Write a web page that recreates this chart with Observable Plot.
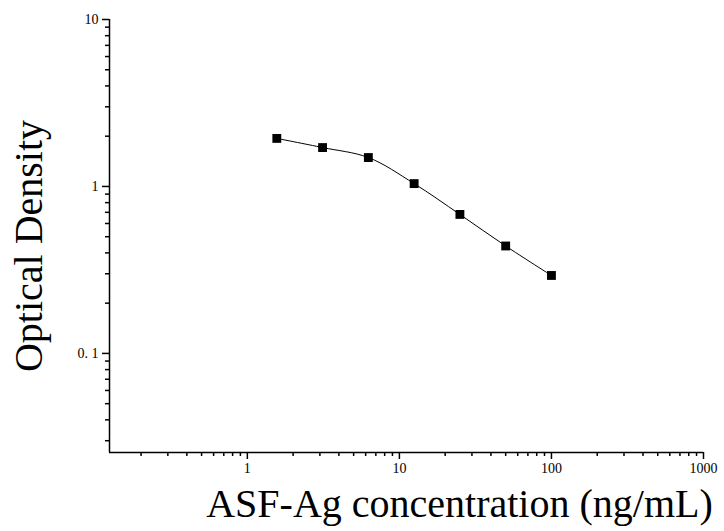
<!DOCTYPE html><html><head><meta charset="utf-8">
<script src="https://cdn.jsdelivr.net/npm/d3@7"></script>
<script src="https://cdn.jsdelivr.net/npm/@observablehq/plot@0.6"></script>
<style>body{margin:0;background:#fff}</style></head><body><div id="c"></div>
<script>
const conc = [1.5625, 3.125, 6.25, 12.5, 25, 50, 100];
const od = [1.94, 1.71, 1.49, 1.04, 0.68, 0.44, 0.293];
const xMajor = [1, 10, 100, 1000];
const yMajor = [0.1, 1, 10];
const xMinor = [0.2,0.3,0.4,0.5,0.6,0.7,0.8,0.9,2,3,4,5,6,7,8,9,20,30,40,50,60,70,80,90,200,300,400,500,600,700,800,900];
const yMinor = [0.03,0.04,0.05,0.06,0.07,0.08,0.09,0.2,0.3,0.4,0.5,0.6,0.7,0.8,0.9,2,3,4,5,6,7,8,9];
const data = conc.map((c,i)=>({c, od: od[i]}));
const xd=[0.124,1000], yd=[0.0255,10];
const chart = Plot.plot({
  width:724, height:531, marginLeft:109, marginTop:19, marginRight:21, marginBottom:79,
  style:{fontFamily:"'Liberation Serif', serif", fontSize:"14px", color:"#000"},
  x:{type:"log", domain:xd}, y:{type:"log", domain:yd},
  marks:[
    Plot.axisX(xMinor, {tickSize:4, text:null, label:null, strokeWidth:1.5}),
    Plot.axisX(xMajor, {tickSize:7, tickPadding:4, tickFormat:d=>String(d), fontSize:14, strokeWidth:1.5,
      label:"ASF-Ag concentration (ng/mL)", labelAnchor:"center", labelArrow:"none", labelOffset:64}),
    Plot.axisY(yMinor, {tickSize:4, text:null, label:null, strokeWidth:1.5}),
    Plot.axisY(yMajor, {tickSize:7, tickPadding:4, tickFormat:d=>d===0.1?"0. 1":String(d), fontSize:14, strokeWidth:1.5,
      label:"Optical Density", labelAnchor:"center", labelArrow:"none", labelOffset:96}),
    Plot.ruleX([xd[0]],{strokeWidth:1.5}),
    Plot.ruleY([yd[0]],{strokeWidth:1.5}),
    Plot.line(data,{x:"c",y:"od",curve:"catmull-rom",stroke:"#000",strokeWidth:1}),
    Plot.dot(data,{x:"c",y:"od",symbol:"square",r:5,fill:"#000"})
  ]
});
chart.querySelectorAll('[aria-label="x-axis label"] text').forEach(t=>{t.style.fontSize="40px";t.setAttribute("dx","53");});
chart.querySelectorAll('[aria-label="y-axis label"] text').forEach(t=>{t.style.fontSize="40px";t.setAttribute("dx","-10");});
document.getElementById("c").append(chart);
</script></body></html>
